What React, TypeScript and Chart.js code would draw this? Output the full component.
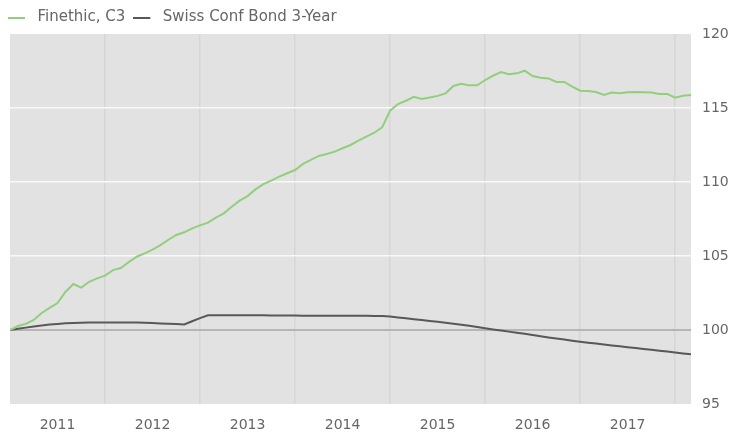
import React, { useEffect, useRef } from 'react';
import { Chart, registerables } from 'chart.js';

Chart.register(...registerables);

const seriesNames = ['Finethic, C3', 'Swiss Conf Bond 3-Year'];
const yearLabels = ['2011', '2012', '2013', '2014', '2015', '2016', '2017'];
const yearBoundaries = [12, 24, 36, 48, 60, 72, 84];
const yearCenters = [6, 18, 30, 42, 54, 66, 78];
const yMin = 95;
const yMax = 120;
const yStep = 5;
const lastMonth = 86;

const finethic = [
  100.0, 100.27, 100.41, 100.68, 101.15, 101.49, 101.82, 102.57, 103.11, 102.86,
  103.26, 103.49, 103.67, 104.05, 104.19, 104.59, 104.95, 105.18, 105.43, 105.74,
  106.1, 106.42, 106.6, 106.87, 107.07, 107.25, 107.59, 107.88, 108.33, 108.74,
  109.05, 109.5, 109.86, 110.09, 110.36, 110.59, 110.81, 111.22, 111.49, 111.76,
  111.89, 112.05, 112.28, 112.5, 112.79, 113.06, 113.33, 113.69, 114.82, 115.27,
  115.49, 115.76, 115.61, 115.71, 115.82, 115.99, 116.49, 116.64, 116.53, 116.53,
  116.89, 117.18, 117.43, 117.28, 117.34, 117.52, 117.16, 117.05, 117.0, 116.76,
  116.76, 116.44, 116.17, 116.15, 116.08, 115.88, 116.04, 115.99, 116.06, 116.08,
  116.06, 116.04, 115.95, 115.95, 115.7, 115.83, 115.88,
];

const swissBond = [
  100.0, 100.08, 100.16, 100.24, 100.31, 100.37, 100.41, 100.45, 100.48, 100.49,
  100.5, 100.5, 100.5, 100.5, 100.5, 100.5, 100.5, 100.49, 100.47, 100.44,
  100.42, 100.4, 100.38, 100.59, 100.8, 101.0, 101.0, 101.0, 100.99, 100.99,
  100.99, 100.99, 100.99, 100.98, 100.98, 100.98, 100.98, 100.97, 100.97, 100.97,
  100.97, 100.97, 100.97, 100.96, 100.96, 100.96, 100.95, 100.94, 100.91, 100.85,
  100.79, 100.73, 100.67, 100.61, 100.55, 100.49, 100.42, 100.36, 100.29, 100.21,
  100.12, 100.04, 99.96, 99.89, 99.82, 99.74, 99.66, 99.58, 99.5, 99.43,
  99.36, 99.28, 99.21, 99.14, 99.08, 99.02, 98.96, 98.9, 98.84, 98.78,
  98.72, 98.66, 98.6, 98.54, 98.48, 98.42, 98.36,
];

const GREEN = '#92cf7d';
const DARK = '#585858';
const TEXT = '#666666';
const FONT = 'DejaVu Sans';

function legendLine(color: string) {
  const c = document.createElement('canvas');
  c.width = 24;
  c.height = 2;
  const g = c.getContext('2d')!;
  g.fillStyle = color;
  g.fillRect(0, 0, 17, 2);
  return c;
}

const plotBg = {
  id: 'plotBg',
  beforeDraw(chart: any) {
    const { ctx, chartArea } = chart;
    if (!chartArea) return;
    ctx.save();
    ctx.fillStyle = '#e2e2e2';
    ctx.fillRect(chartArea.left, chartArea.top, chartArea.right - chartArea.left, chartArea.bottom - chartArea.top);
    ctx.restore();
  },
};

export default function App() {
  const ref = useRef<HTMLCanvasElement | null>(null);

  useEffect(() => {
    if (!ref.current) return;
    const chart = new Chart(ref.current, {
      type: 'line',
      data: {
        datasets: [
          {
            label: seriesNames[0],
            data: finethic.map((v, i) => ({ x: i, y: v })),
            borderColor: GREEN,
            backgroundColor: GREEN,
            borderWidth: 2,
            pointRadius: 0,
            pointStyle: legendLine(GREEN) as any,
            tension: 0,
            xAxisID: 'x',
            yAxisID: 'y',
          },
          {
            label: seriesNames[1],
            data: swissBond.map((v, i) => ({ x: i, y: v })),
            borderColor: DARK,
            backgroundColor: DARK,
            borderWidth: 2,
            pointRadius: 0,
            pointStyle: legendLine(DARK) as any,
            tension: 0,
            xAxisID: 'x',
            yAxisID: 'y',
          },
        ],
      },
      options: {
        responsive: false,
        maintainAspectRatio: false,
        animation: false,
        devicePixelRatio: 1,
        events: [],
        layout: { padding: 0 },
        plugins: {
          tooltip: { enabled: false },
          legend: {
            display: true,
            position: 'top',
            align: 'start',
            maxHeight: 34,
            labels: {
              usePointStyle: true,
              pointStyleWidth: 20,
              padding: 10,
              color: TEXT,
              font: { family: FONT, size: 15 },
            },
          },
        },
        scales: {
          yl: {
            type: 'linear',
            position: 'left',
            display: true,
            grid: { display: false },
            border: { display: false },
            ticks: { display: false },
            afterFit: (s: any) => { s.width = 10; },
          },
          x: {
            type: 'linear',
            position: 'bottom',
            min: 0,
            max: lastMonth,
            grid: { color: '#d6d6d6', lineWidth: 1.5, drawTicks: false },
            border: { display: false },
            ticks: { display: false },
            afterBuildTicks: (s: any) => { s.ticks = yearBoundaries.map((v) => ({ value: v })); },
            afterFit: (s: any) => { s.height = 0; },
          },
          x2: {
            type: 'linear',
            position: 'bottom',
            min: 0,
            max: lastMonth,
            grid: { display: false, drawTicks: false },
            border: { display: false },
            ticks: {
              color: TEXT,
              font: { family: FONT, size: 14 },
              padding: 13,
              autoSkip: false,
              maxRotation: 0,
              callback: (_v: any, i: number) => yearLabels[i],
            },
            afterBuildTicks: (s: any) => { s.ticks = yearCenters.map((v) => ({ value: v })); },
            afterFit: (s: any) => { s.height = 28; },
          },
          y: {
            type: 'linear',
            position: 'right',
            min: yMin,
            max: yMax,
            grid: {
              drawTicks: false,
              color: (c: any) => {
                const v = c.tick && c.tick.value;
                if (v === 100) return '#b6b6b6';
                if (v === yMin || v === yMax) return 'rgba(0,0,0,0)';
                return '#f8f8f8';
              },
              lineWidth: (c: any) => (c.tick && c.tick.value === 100 ? 2 : 1.5),
            },
            border: { display: false },
            ticks: {
              stepSize: yStep,
              color: TEXT,
              font: { family: FONT, size: 14 },
              padding: 11,
              callback: (v: any) => String(v),
            },
            afterFit: (s: any) => { s.width = 53; },
          },
        },
      },
      plugins: [plotBg],
    } as any);
    return () => chart.destroy();
  }, []);

  return (
    <div style={{ position: 'fixed', left: 0, top: 0, width: 744, height: 432, background: '#fff' }}>
      <canvas ref={ref} width={744} height={432} style={{ width: 744, height: 432, display: 'block' }} />
    </div>
  );
}
